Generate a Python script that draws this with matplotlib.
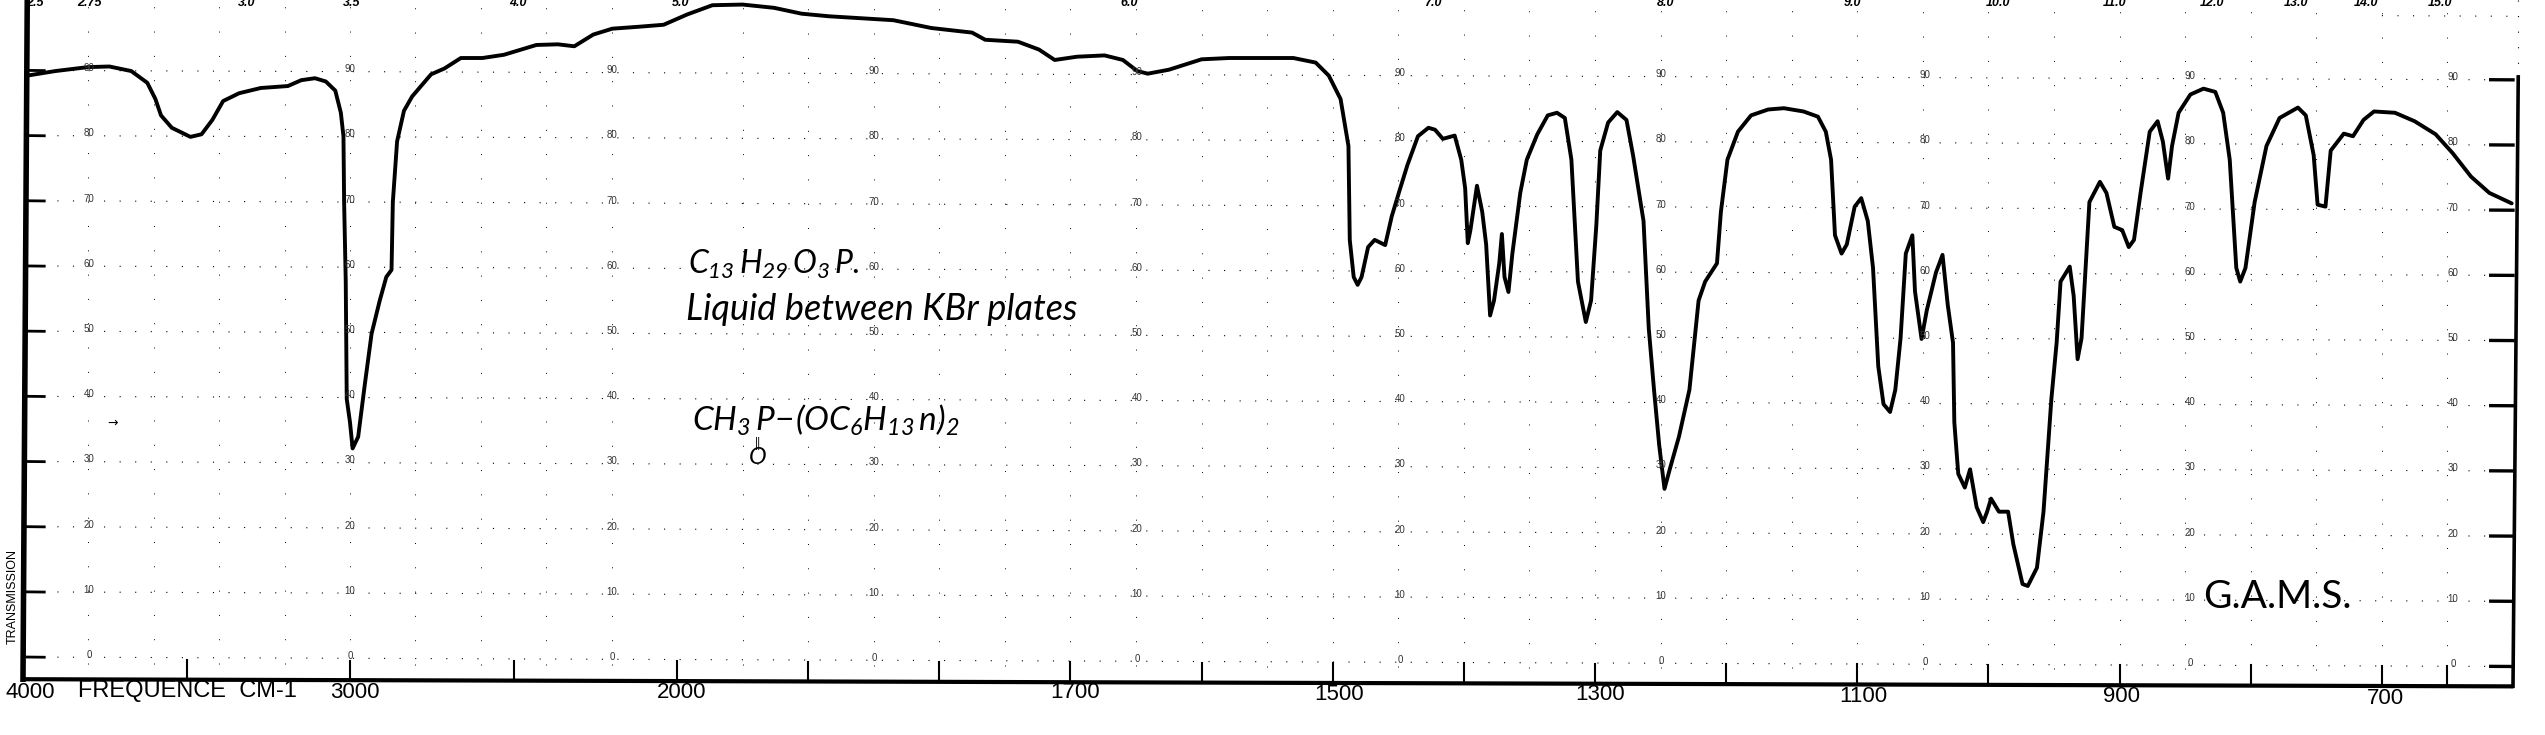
import numpy as np
import matplotlib
matplotlib.use("Agg")
import matplotlib.pyplot as plt

# scanned IR spectrum
wavenumber = [3987, 3901, 3802, 3736, 3669, 3620, 3595, 3578, 3545, 3488, 3454, 3421, 3388, 3339, 3273, 3190, 3149, 3107, 3074, 3045,
              3028, 3020, 3018, 3013, 3010, 3000, 2992, 2975, 2955, 2934, 2909, 2889, 2873, 2869, 2856, 2835, 2810, 2752, 2711, 2661,
              2595, 2529, 2430, 2364, 2314, 2256, 2198, 2116, 2041, 1992, 1973, 1950, 1926, 1905, 1884, 1868, 1835, 1806, 1775, 1765,
              1740, 1724, 1712, 1695, 1674, 1660, 1649, 1641, 1625, 1600, 1579, 1530, 1513, 1503, 1494, 1488, 1487, 1484, 1481, 1478,
              1473, 1468, 1460, 1455, 1449, 1443, 1435, 1427, 1422, 1416, 1407, 1402, 1399, 1397, 1395, 1390, 1386, 1383, 1380, 1377,
              1373, 1371, 1369, 1366, 1363, 1357, 1352, 1344, 1336, 1329, 1323, 1318, 1313, 1307, 1303, 1299, 1296, 1290, 1283, 1276,
              1271, 1263, 1259, 1255, 1251, 1247, 1243, 1236, 1228, 1221, 1216, 1207, 1204, 1199, 1191, 1181, 1168, 1156, 1141, 1130,
              1124, 1120, 1117, 1112, 1108, 1102, 1097, 1092, 1088, 1084, 1080, 1075, 1071, 1067, 1063, 1058, 1056, 1051, 1047, 1040,
              1035, 1031, 1027, 1026, 1023, 1018, 1014, 1009, 1004, 1001, 998, 992, 985, 981, 974, 970, 963, 958, 952, 948,
              945, 938, 935, 932, 929, 923, 915, 910, 904, 898, 893, 889, 884, 877, 871, 867, 863, 860, 855, 846,
              836, 827, 821, 816, 811, 808, 804, 797, 788, 778, 764, 758, 752, 749, 743, 739, 729, 722, 714, 706,
              690, 675, 659, 646, 632, 618, 601]
transmission = [89.2, 89.9, 90.5, 90.6, 89.9, 88.1, 85.6, 83.1, 81.2, 79.8, 80.2, 82.4, 85.3, 86.5, 87.3, 87.6, 88.5, 88.8, 88.3, 86.9,
                83.5, 79.9, 69.8, 57.6, 39.6, 36.0, 32.0, 33.8, 41.7, 49.6, 54.7, 58.3, 59.4, 69.8, 79.1, 83.8, 86.0, 89.4, 90.3, 91.9,
                91.9, 92.4, 93.9, 94.0, 93.7, 95.5, 96.4, 96.7, 97.0, 98.6, 100.0, 100.1, 99.6, 98.7, 98.3, 98.1, 97.7, 96.5, 95.8, 94.7,
                94.4, 93.2, 91.6, 92.1, 92.3, 91.6, 89.9, 89.5, 90.1, 91.7, 91.9, 91.9, 91.2, 89.2, 85.6, 78.4, 64.0, 58.3, 57.1, 58.3,
                62.9, 64.0, 63.2, 67.6, 71.6, 75.5, 79.9, 81.2, 80.9, 79.5, 80.0, 76.3, 71.9, 63.5, 65.5, 72.3, 68.3, 63.3, 52.4, 54.7,
                60.4, 64.9, 58.3, 56.0, 61.9, 71.2, 76.3, 80.2, 83.1, 83.5, 82.7, 76.3, 57.6, 51.4, 54.7, 66.2, 77.7, 82.0, 83.6, 82.4,
                77.0, 66.9, 50.4, 41.0, 32.4, 25.8, 28.8, 33.8, 41.0, 54.7, 57.6, 60.4, 68.3, 76.3, 80.6, 83.1, 84.0, 84.2, 83.7, 82.9,
                80.6, 76.3, 64.7, 61.9, 63.3, 69.1, 70.4, 66.9, 59.7, 44.6, 38.8, 37.6, 41.0, 48.9, 61.9, 64.7, 56.1, 48.8, 53.2, 59.0,
                61.7, 54.0, 48.2, 36.0, 28.1, 26.0, 28.8, 23.0, 20.7, 22.3, 24.3, 22.3, 22.3, 17.3, 11.2, 10.9, 13.7, 22.3, 39.6, 48.2,
                57.6, 59.9, 55.4, 45.7, 48.9, 69.8, 72.9, 71.2, 66.0, 65.5, 62.9, 64.0, 71.2, 80.6, 82.2, 79.1, 73.4, 78.4, 83.5, 86.3,
                87.2, 86.7, 83.5, 76.3, 59.7, 57.6, 59.7, 69.8, 78.4, 82.7, 84.3, 83.1, 77.0, 69.4, 69.1, 77.7, 80.3, 79.9, 82.4, 83.7,
                83.5, 82.2, 80.2, 77.3, 73.7, 71.2, 69.6]

freq_ticks = [3500, 3000, 2500, 2000, 1900, 1800, 1700, 1600, 1500, 1400, 1300, 1200, 1100, 1000, 900, 800, 700, 650]
freq_labels = ["4000", "3000", "2000", "1700", "1500", "1300", "1100", "900", "700"]
trans_ticks = [0, 10, 20, 30, 40, 50, 60, 70, 80, 90]
trans_labels = ["0", "10", "20", "30", "40", "50", "60", "70", "80", "90"]
micron_labels = ["2.5", "2.75", "3.0", "3.5", "4.0", "5.0", "6.0", "7.0", "8.0", "9.0", "10.0", "11.0", "12.0", "13.0", "14.0", "15.0"]

W, H = 2545, 735
plt.rcParams["mathtext.fontset"] = "custom"
plt.rcParams["mathtext.it"] = "Lato:italic"
plt.rcParams["mathtext.rm"] = "Lato:italic"
plt.rcParams["mathtext.default"] = "it"

# chart paper has two linear parts with a break at 2000
scale_cm = np.array([0, 600, 2000, 4000, 5000])
scale_px = np.array([3299, 2513, 677, 23, -304])


# negative sign keeps the transform increasing, the axis itself is inverted
def forward(x):
    return -np.interp(x, scale_cm, scale_px)


def inverse(p):
    return np.interp(-np.asarray(p), scale_px[::-1], scale_cm[::-1])


def put(px, py, s, **kw):
    kw.setdefault("ha", "center")
    kw.setdefault("va", "center")
    fig.text(px / W, 1 - py / H, s, **kw)


fig = plt.figure(figsize=(W / 100, H / 100), dpi=100)
ax = fig.add_axes([0, 0, 1, 1])
ax.set_xscale("function", functions=(forward, inverse))
ax.set_xlim(inverse(0), inverse(-W))
ax.set_ylim(-11.96, 100.8)
ax.axis("off")

dots = (0, (1, 13))
for t in trans_ticks:
    ax.plot([3990, 600], [t, t - 1.45], color="black", lw=0.8, ls=dots)
    ax.plot([3987, 3935], [t, t - 0.03], color="black", lw=2.0)
    ax.plot([617, 600], [t - 1.43, t - 1.45], color="black", lw=2.4)
for f in list(range(3800, 2000, -200)) + list(range(1950, 600, -50)):
    frac = (-forward(f) - 23) / 2490
    ax.plot([f, f], [-1 - frac, 100.8], color="black", lw=0.7, ls=(0, (1, 24)))

# frame is slightly skewed like the scan
ax.plot([3987, 4000], [100.8, -3.4], color="black", lw=4)
ax.plot([4000, 600], [-3.4, -4.5], color="black", lw=3.0, solid_capstyle="butt")
ax.plot([596, 600], [89, -4.5], color="black", lw=2.6)
ax.plot([596, 596], [100.8, 89], color="black", lw=0.8, ls=dots)
ax.plot([700, 596], [98.4, 98.3], color="black", lw=0.8, ls=dots)
for f in freq_ticks:
    frac = (-forward(f) - 23) / 2490
    ax.plot([f, f], [-3.4 - 1.1 * frac, -0.4 - 1.0 * frac], color="black", lw=1.5)

ax.plot(wavenumber, transmission, color="black", lw=2.8, solid_joinstyle="round", solid_capstyle="round")

# printed scale numbers in the columns
for col_px, shift in zip([89, 350, 612, 874, 1137, 1400, 1661, 1925, 2190, 2453], np.linspace(0, 9, 10)):
    for t, lab in zip(trans_ticks, trans_labels):
        put(col_px, 657 - 6.52 * t + shift - 2, lab, fontsize=7, color="#333333", family="Liberation Sans")

for px, lab in zip([35, 89, 247, 352, 518, 681, 1129, 1433, 1666, 1852, 1998, 2115, 2212, 2296, 2366, 2440], micron_labels):
    put(px, 3, lab, fontsize=9, fontweight="bold", style="italic", family="Liberation Sans")

for px, py, lab in zip([30, 355, 682, 1075, 1339, 1600, 1863, 2121, 2385],
                       [692, 692, 692, 693, 694, 695, 697, 697, 698], freq_labels):
    put(px, py, lab, fontsize=16, family="Liberation Sans")
put(187, 691, "FREQUENCE  CM-1", fontsize=17, family="Liberation Sans")
put(13, 596, "TRANSMISSION", fontsize=9, rotation=90, family="Liberation Sans")
put(113, 423, "\u2192", fontsize=9, family="DejaVu Sans")

# handwritten notes
put(688, 264, r"$C_{13}\,H_{29}\,O_3\,P.$", ha="left", fontsize=23)
put(686, 310, "Liquid between KBr plates", ha="left", fontsize=26, style="italic", family="Lato")
put(692, 420, r"$CH_3\,P\!-\!(OC_6H_{13}\,n)_2$", ha="left", fontsize=24)
put(758, 443, "||", fontsize=9, family="Lato")
put(758, 457, "O", fontsize=17, style="italic", family="Lato")
put(2203, 597, "G.A.M.S.", ha="left", fontsize=28, family="Lato")

fig.savefig("out.png", dpi=100)
